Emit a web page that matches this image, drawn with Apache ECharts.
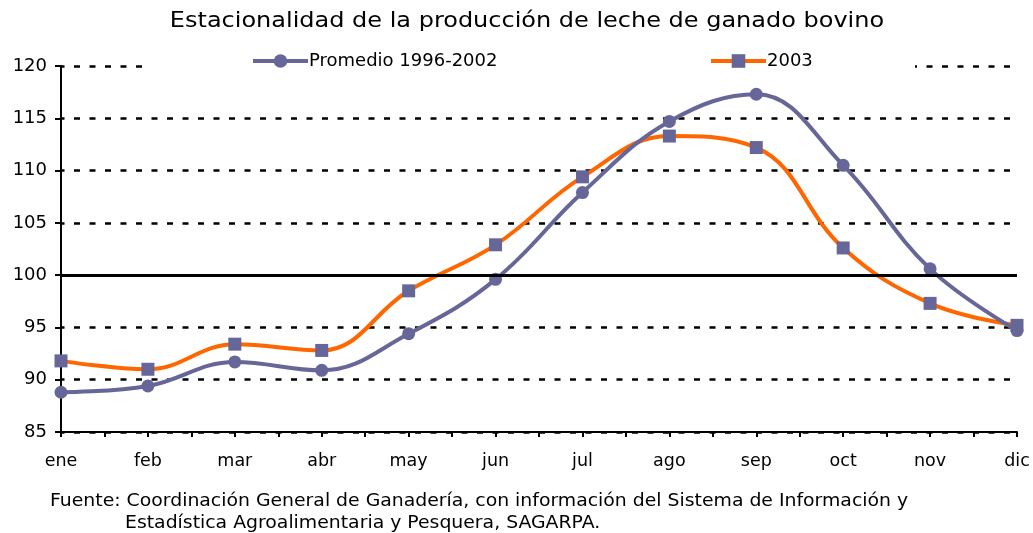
<!DOCTYPE html>
<html><head><meta charset="utf-8">
<script src="https://cdn.jsdelivr.net/npm/echarts@6/dist/echarts.min.js"></script>
<style>html,body{margin:0;padding:0;background:#fff}#c{width:1033px;height:533px}</style>
</head><body><div id="c"></div>
<script>
const months = ['ene','feb','mar','abr','may','jun','jul','ago','sep','oct','nov','dic'];
const promedio = [88.8, 89.4, 91.7, 90.9, 94.4, 99.6, 107.9, 114.7, 117.3, 110.5, 100.6, 94.7];
const y2003 = [91.8, 91.0, 93.4, 92.8, 98.5, 102.9, 109.4, 113.3, 112.2, 102.6, 97.3, 95.2];
const seriesNames = ['Promedio 1996-2002', '2003'];
const referenceLevel = 100;
const yTicks = {min: 85, max: 120, step: 5};
const titleText = 'Estacionalidad de la producción de leche de ganado bovino';
const sourceLines = [
  'Fuente: Coordinación General de Ganadería, con información del Sistema de Información y',
  'Estadística Agroalimentaria y Pesquera, SAGARPA.'
];

const FONT = 'DejaVu Sans';
const halfTicks = [];
for (let i = 0; i < months.length * 2 - 1; i++) halfTicks.push('');

const legendCommon = {
  top: 47, itemWidth: 55, itemHeight: 17, z: 10,
  lineStyle: {width: 4},
  textStyle: {fontFamily: FONT, fontSize: 18, color: '#000', padding: [0, 0, 0, -4]}
};

const chart = echarts.init(document.getElementById('c'), null, {renderer: 'canvas'});
chart.setOption({
  animation: false,
  textStyle: {fontFamily: FONT, color: '#000'},
  legend: [
    Object.assign({}, legendCommon, {left: 246, data: [seriesNames[0]]}),
    Object.assign({}, legendCommon, {left: 704, data: [seriesNames[1]]})
  ],
  grid: {left: 61, right: 16, top: 66, bottom: 101, containLabel: false},
  xAxis: [{
    type: 'category', data: months, boundaryGap: false,
    axisLine: {lineStyle: {color: '#000', width: 2}},
    axisTick: {show: false},
    axisLabel: {fontFamily: FONT, fontSize: 17.5, color: '#000', margin: 20}
  }, {
    type: 'category', data: halfTicks, boundaryGap: false, position: 'bottom',
    axisLine: {show: false},
    axisTick: {show: true, length: 5, lineStyle: {color: '#000', width: 2}},
    axisLabel: {show: false}
  }],
  yAxis: {
    type: 'value', min: yTicks.min, max: yTicks.max, interval: yTicks.step,
    axisLine: {show: true, lineStyle: {color: '#000', width: 2}},
    axisTick: {show: true, length: 6, lineStyle: {color: '#000', width: 2}},
    axisLabel: {fontFamily: FONT, fontSize: 18, color: '#000', margin: 14},
    splitLine: {show: true, lineStyle: {color: '#000', width: 2.5, type: [6, 9.5], dashOffset: 2.5}}
  },
  series: [{
    name: seriesNames[0], type: 'line', data: promedio, smooth: 0.4,
    symbol: 'circle', symbolSize: 13,
    lineStyle: {color: '#666699', width: 4},
    itemStyle: {color: '#666699'},
    z: 3,
    markLine: {
      silent: true, symbol: 'none', label: {show: false},
      lineStyle: {color: '#000', width: 3, type: 'solid'},
      data: [{yAxis: referenceLevel}]
    }
  }, {
    name: seriesNames[1], type: 'line', data: y2003, smooth: 0.4,
    symbol: 'rect', symbolSize: 13,
    lineStyle: {color: '#FF6600', width: 4},
    itemStyle: {color: '#666699'},
    z: 2
  }],
  graphic: [{
    type: 'rect', z: 5, silent: true,
    shape: {x: 145, y: 56, width: 770, height: 20},
    style: {fill: '#fff'}
  }, {
    type: 'text', x: 527, y: 21, scaleX: 1.09, z: 6,
    style: {text: titleText, font: '22px "DejaVu Sans"', fill: '#000', align: 'center', verticalAlign: 'middle'}
  }, {
    type: 'text', x: 50, y: 502, scaleX: 1.108, z: 6,
    style: {text: sourceLines[0], font: '17px "DejaVu Sans"', fill: '#000', verticalAlign: 'middle'}
  }, {
    type: 'text', x: 125, y: 524, scaleX: 1.108, z: 6,
    style: {text: sourceLines[1], font: '17px "DejaVu Sans"', fill: '#000', verticalAlign: 'middle'}
  }]
});
</script></body></html>
